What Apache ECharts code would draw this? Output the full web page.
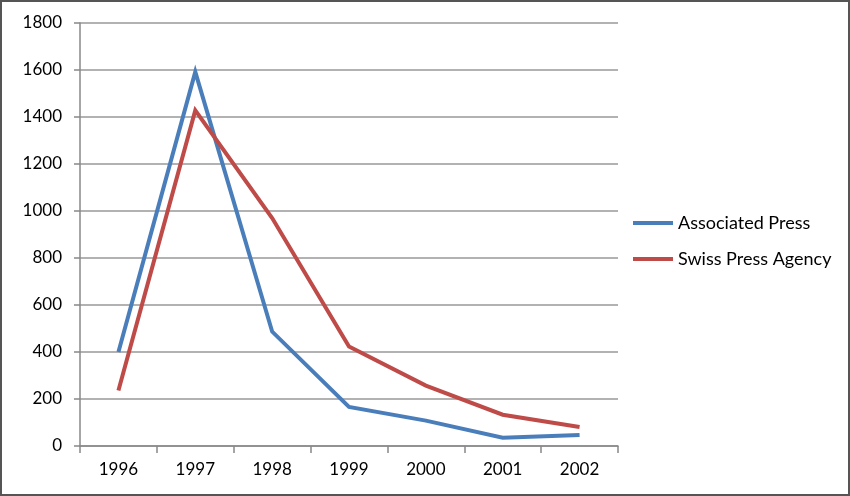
<!DOCTYPE html>
<html>
<head>
<meta charset="utf-8">
<script src="https://cdn.jsdelivr.net/npm/echarts@6/dist/echarts.min.js"></script>
<style>
html,body{margin:0;padding:0;background:#fff;}
#wrap{position:relative;width:850px;height:496px;}
#chart{position:absolute;left:0;top:0;width:850px;height:496px;}
#frame{position:absolute;left:0;top:0;width:850px;height:496px;box-sizing:border-box;border:2px solid #555;pointer-events:none;}
</style>
</head>
<body>
<div id="wrap"><div id="chart"></div><div id="frame"></div></div>
<script>
const categories = ['1996','1997','1998','1999','2000','2001','2002'];
const associatedPress = [400, 1592, 487, 166, 108, 35, 47];
const swissPressAgency = [236, 1428, 970, 423, 257, 133, 81];
const yTicks = {min: 0, max: 1800, interval: 200};

const chart = echarts.init(document.getElementById('chart'), null, {renderer: 'canvas'});
const font = 'Lato, "Open Sans", "Liberation Sans", sans-serif';
chart.setOption({
  animation: false,
  backgroundColor: '#fff',
  textStyle: {fontFamily: font},
  grid: {left: 80, right: 232, top: 23, bottom: 50, containLabel: false},
  legend: {
    orient: 'vertical',
    left: 633,
    top: 212,
    padding: 0,
    icon: 'rect',
    itemWidth: 40,
    itemHeight: 4,
    itemGap: 14,
    textStyle: {fontSize: 18, color: '#000', lineHeight: 22, fontFamily: font},
    data: ['Associated Press', 'Swiss Press Agency']
  },
  xAxis: {
    type: 'category',
    data: categories,
    boundaryGap: true,
    axisLine: {show: true, lineStyle: {color: '#888', width: 1.5}},
    axisTick: {show: true, length: 7, alignWithLabel: false, lineStyle: {color: '#888', width: 1.5}},
    axisLabel: {color: '#000', fontSize: 17, margin: 15, fontFamily: font},
    splitLine: {show: false}
  },
  yAxis: {
    type: 'value',
    min: yTicks.min,
    max: yTicks.max,
    interval: yTicks.interval,
    axisLine: {show: true, lineStyle: {color: '#888', width: 1.5}},
    axisTick: {show: true, length: 6, lineStyle: {color: '#888', width: 1.5}},
    axisLabel: {color: '#000', fontSize: 17, margin: 18, fontFamily: font, formatter: function (v) { return String(v); }},
    splitLine: {show: true, lineStyle: {color: '#999', width: 1.5}}
  },
  series: [
    {
      name: 'Associated Press',
      type: 'line',
      data: associatedPress,
      showSymbol: false,
      symbol: 'none',
      color: '#4a7ebb',
      lineStyle: {width: 4, color: '#4a7ebb', join: 'miter'}
    },
    {
      name: 'Swiss Press Agency',
      type: 'line',
      data: swissPressAgency,
      showSymbol: false,
      symbol: 'none',
      color: '#be4b48',
      lineStyle: {width: 4, color: '#be4b48', join: 'miter'}
    }
  ]
});
</script>
</body>
</html>
